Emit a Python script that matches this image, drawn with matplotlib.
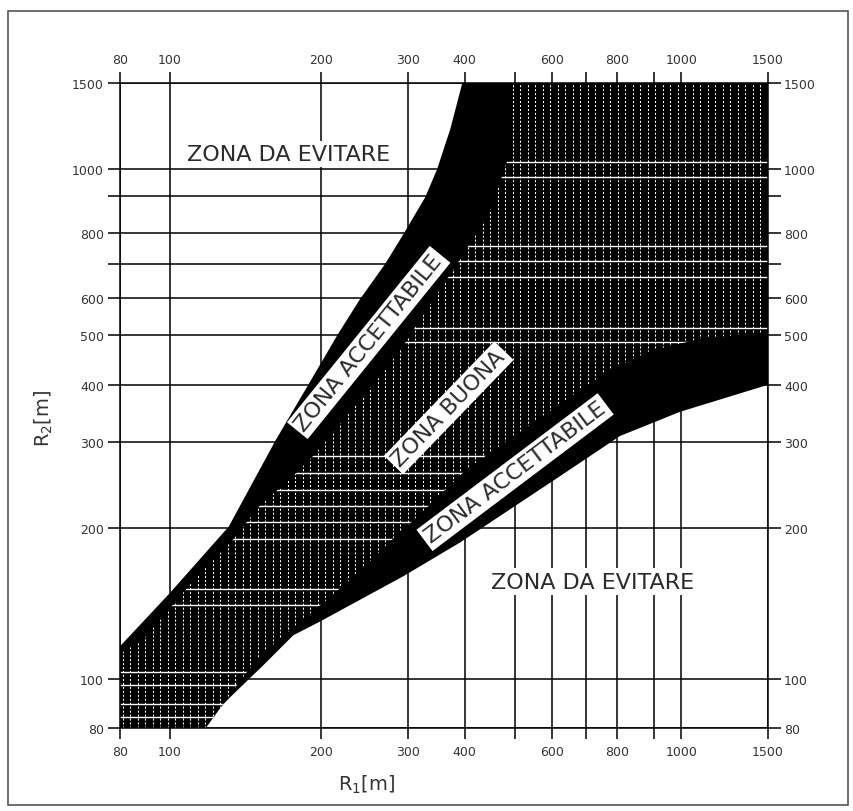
import numpy as np
import matplotlib
matplotlib.use("Agg")
import matplotlib.pyplot as plt
from matplotlib.patches import Polygon, Rectangle
from matplotlib.collections import LineCollection

# valori dei tick (uguali sui due assi) e relative etichette
TICKS = [80, 100, 200, 300, 400, 500, 600, 700, 800, 900, 1000, 1500]
X_LABELS = ["80", "100", "200", "300", "400", "", "600", "", "800", "", "1000", "1500"]
Y_LABELS = ["80", "100", "200", "300", "400", "500", "600", "", "800", "", "1000", "1500"]

# la scala stampata non e' esattamente logaritmica: frazione d'asse di ogni tick
TICK_FRAC = [0.0, 0.0766, 0.3105, 0.4437, 0.5321, 0.6097, 0.6665, 0.7193, 0.7676, 0.8242, 0.8662, 1.0]

# bordi delle zone (R1, R2)
sup_esterno_r1 = [80, 100, 131, 162, 188, 216, 240, 270, 296, 328, 348, 372, 395]
sup_esterno_r2 = [116, 148, 201, 301, 398, 500, 597, 700, 802, 898, 1000, 1209, 1500]
sup_interno_r1 = [80, 89, 97, 111, 134, 151, 176, 193, 264, 294, 331, 391, 447, 482, 493]
sup_interno_r2 = [112, 120, 133, 156, 190, 222, 255, 281, 416, 476, 568, 715, 856, 1035, 1500]
inf_interno_r1 = [118, 138, 151, 182, 206, 240, 280, 319, 404, 512, 642, 765, 888, 1091, 1500]
inf_interno_r2 = [80, 99, 111, 130, 144, 164, 190, 213, 264, 315, 372, 424, 465, 491, 507]
inf_esterno_r1 = [115, 132, 153, 176, 199, 294, 391, 622, 807, 995, 1500]
inf_esterno_r2 = [80, 92, 106, 122, 130, 160, 187, 255, 309, 349, 400]

# righe bianche del retino nella zona buona (valori di R2)
righe_retino = [1035, 970, 756, 710, 660, 517, 484, 280, 259, 239, 222, 205,
                190, 151, 140, 103, 97, 89, 84]

R_MIN, R_MAX = 80, 1500

L = np.log10(TICKS)
F = np.array(TICK_FRAC)
s0 = (F[1] - F[0]) / (L[1] - L[0])
s1 = (F[-1] - F[-2]) / (L[-1] - L[-2])


def _fwd(v):
    lv = np.log10(np.clip(np.asarray(v, dtype=float), 1e-6, None))
    out = np.interp(lv, L, F)
    out = np.where(lv < L[0], F[0] + (lv - L[0]) * s0, out)
    out = np.where(lv > L[-1], F[-1] + (lv - L[-1]) * s1, out)
    return out


def _inv(f):
    f = np.asarray(f, dtype=float)
    out = np.interp(f, F, L)
    out = np.where(f < F[0], L[0] + (f - F[0]) / s0, out)
    out = np.where(f > F[-1], L[-1] + (f - F[-1]) / s1, out)
    return 10 ** out


fig = plt.figure(figsize=(8.54, 8.12), dpi=100)
ax = fig.add_axes([120 / 854, 83 / 812, 648 / 854, 645 / 812])

ax.set_xscale("function", functions=(_fwd, _inv))
ax.set_yscale("function", functions=(_fwd, _inv))
ax.set_xlim(R_MIN, R_MAX)
ax.set_ylim(R_MIN, R_MAX)

# griglia
ax.set_axisbelow(True)
ax.set_xticks(TICKS, X_LABELS)
ax.set_yticks(TICKS, Y_LABELS)
ax.grid(True, color="black", lw=1.1)
for sp in ax.spines.values():
    sp.set_linewidth(1.1)
ax.tick_params(axis="both", direction="out", width=1.1, colors="black",
               labelcolor="#333333", labelsize=9,
               top=True, labeltop=True, right=True, labelright=True)
ax.tick_params(axis="x", length=8, pad=4)
ax.tick_params(axis="y", length=9, pad=2.5)

# fascia nera (zone accettabili + zona buona)
nero = list(zip(sup_esterno_r1, sup_esterno_r2)) + [(R_MAX, R_MAX)] \
    + list(zip(inf_esterno_r1[::-1], inf_esterno_r2[::-1])) + [(R_MIN, R_MIN)]
ax.add_patch(Polygon(nero, closed=True, fc="black", ec="none", zorder=1))

buona = list(zip(sup_interno_r1, sup_interno_r2)) + [(R_MAX, R_MAX)] \
    + list(zip(inf_interno_r1[::-1], inf_interno_r2[::-1])) + [(R_MIN, R_MIN)]
zona_buona = Polygon(buona, closed=True, fc="black", ec="none", zorder=1)
ax.add_patch(zona_buona)

# retino a puntini bianchi della zona buona
xs = np.arange(0.004, 1.0, 7.5 / 648)
colonne = LineCollection([[(x, 0), (x, 1)] for x in xs], colors="white",
                         linewidths=0.75, linestyles=[(0, (2.0, 1.8))],
                         transform=ax.transAxes, zorder=2)
colonne.set_clip_path(zona_buona)
ax.add_collection(colonne)

righe = ax.hlines(righe_retino, R_MIN, R_MAX, colors="white", lw=1.0, zorder=2)
righe.set_clip_path(zona_buona)

# etichette delle zone
kw = dict(fontsize=16, color="#2b2b2b", ha="center", va="center",
          rotation_mode="anchor", zorder=5,
          bbox=dict(boxstyle="square,pad=0.15", fc="white", ec="none"))
ax.text(172, 1075, "ZONA DA EVITARE", **kw)
ax.text(721, 156, "ZONA DA EVITARE", **kw)
ax.text(250, 483, "ZONA ACCETTABILE", rotation=51, **kw)
ax.text(369, 356, "ZONA BUONA", rotation=46, **kw)
ax.text(500, 260, "ZONA ACCETTABILE", rotation=37, **kw)

ax.set_xlabel("R$_1$[m]", fontsize=14, color="#333333")
ax.set_ylabel("R$_2$[m]", fontsize=14, color="#333333")
ax.xaxis.set_label_coords((367 - 120) / 648, (729 - 774) / 645)
ax.yaxis.set_label_coords((55 - 120) / 648, (729 - 418) / 645)

# cornice esterna
fig.add_artist(Rectangle((8 / 854, 6 / 812), 840 / 854, 794 / 812,
                         transform=fig.transFigure, fill=False,
                         ec="#555555", lw=1.2))

fig.savefig("out.png", dpi=100)
